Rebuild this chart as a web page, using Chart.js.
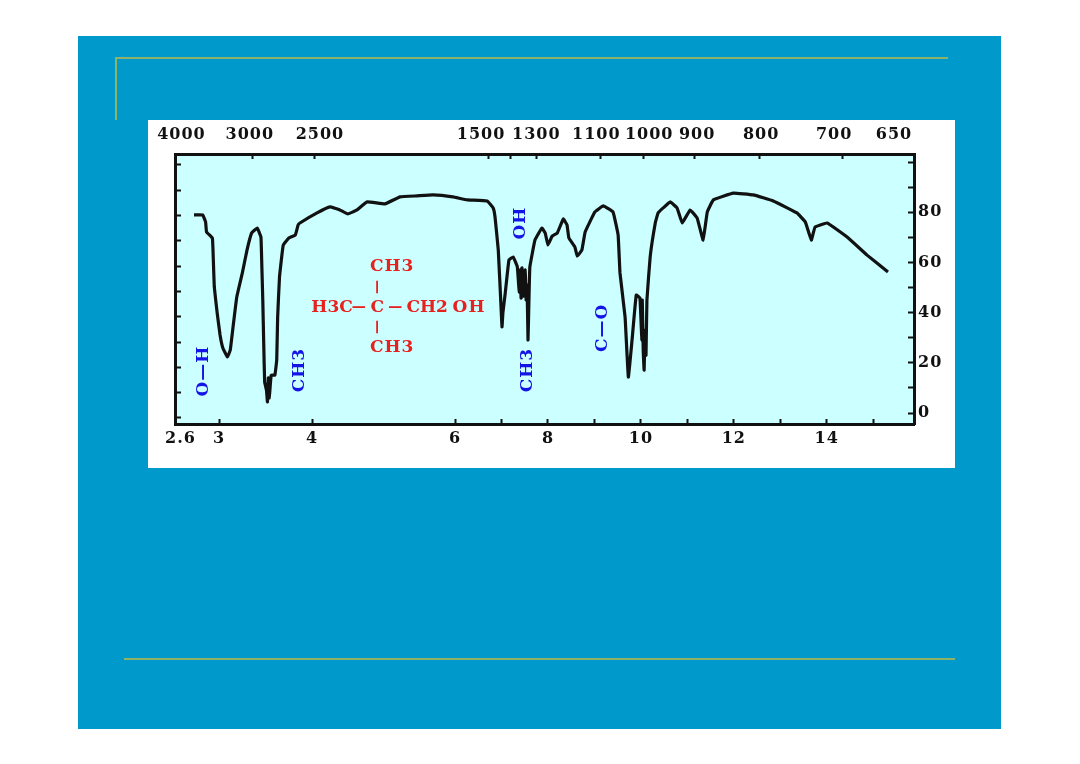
<!DOCTYPE html>
<html><head><meta charset="utf-8">
<script src="https://cdn.jsdelivr.net/npm/chart.js@4"></script>
<style>
html,body{margin:0;padding:0;background:#fff;width:1080px;height:764px;overflow:hidden}
#slide{position:absolute;left:78px;top:36px;width:923px;height:693px;background:#0099cc}
#panel{position:absolute;left:148px;top:120px;width:807px;height:348px;background:#fff}
.g{position:absolute;background:#8fb168}
canvas{position:absolute;left:0;top:0}
</style></head><body>
<div id="slide"></div><div id="panel"></div>
<div class="g" style="left:115px;top:57px;width:833px;height:2px"></div>
<div class="g" style="left:115px;top:57px;width:2px;height:63px"></div>
<div class="g" style="left:124px;top:658px;width:831px;height:2px"></div>
<canvas id="c" width="1080" height="764"></canvas>
<script>
// wavelength in micrometres, percent transmittance
const wavelengthUm=[2.74,2.83,2.86,2.87,2.93,2.94,2.95,2.98,3.01,3.04,3.09,3.12,3.15,3.19,3.25,3.30,3.35,3.41,3.45,3.46,3.47,3.48,3.49,3.51,3.52,3.53,3.54,3.56,3.60,3.62,3.63,3.65,3.69,3.75,3.82,3.85,3.87,4.07,4.25,4.39,4.50,4.63,4.77,5.02,5.23,5.47,5.69,5.97,6.26,6.69,6.82,6.86,6.93,6.99,7.01,7.03,7.08,7.16,7.25,7.34,7.38,7.40,7.42,7.44,7.47,7.51,7.53,7.55,7.57,7.59,7.61,7.72,7.87,7.94,8.00,8.09,8.20,8.33,8.41,8.45,8.58,8.63,8.73,8.80,9.01,9.19,9.40,9.51,9.55,9.66,9.73,9.81,9.90,9.98,10.02,10.03,10.05,10.07,10.09,10.11,10.13,10.20,10.31,10.37,10.48,10.63,10.78,10.89,11.06,11.21,11.34,11.43,11.56,11.99,12.42,12.85,13.36,13.54,13.67,13.75,14.01,14.44,14.87,15.32];
const transmittance=[78.9,78.9,76.1,72.1,69.7,61.0,50.2,39.8,31.1,25.9,22.3,25.1,34.3,46.2,55.8,64.9,71.7,73.7,70.1,58.2,45.0,27.9,12.4,9.0,4.4,14.0,6.0,15.0,15.1,21.1,38.2,54.2,66.9,69.7,70.9,74.9,75.7,79.7,82.1,80.9,79.3,80.9,84.1,83.3,86.1,86.5,86.9,86.1,84.9,84.5,81.7,78.1,64.9,42.0,34.3,40.0,47.8,61.0,62.2,58.2,48.2,57.0,45.8,57.8,46.6,57.0,45.0,51.0,29.1,45.0,58.2,68.9,73.7,71.7,66.9,70.5,71.7,77.3,74.9,69.7,66.1,62.5,64.9,72.1,80.1,82.5,80.1,70.9,55.8,38.2,14.3,29.1,47.0,45.8,29.1,45.0,25.1,17.1,33.0,23.0,45.0,62.2,75.7,79.7,81.7,84.1,81.7,75.7,80.9,77.7,68.9,80.1,84.9,87.6,86.9,84.5,79.7,76.1,68.9,74.1,75.7,70.1,62.9,56.2];

const bottomTickUm=[3,4,6,7,8,9,10,11,12,13,14,15];
const bottomLabels=['2.6','3','4','6','8','10','12','14'];
const bottomLabelUm=[2.6,3,4,6,8,10,12,14];
const topTickWavenumber=[3000,2500,1500,1400,1300,1100,1000,900,800,700];
const topLabels=['4000','3000','2500','1500','1300','1100','1000','900','800','700','650'];
const topLabelUm=[2.61,3.33,4.11,6.56,7.75,9.04,10.18,11.21,12.59,14.16,15.45];
const rightTicks=[0,10,20,30,40,50,60,70,80,90,100];
const rightLabels=[0,20,40,60,80];

const annText=['H3C','—','C','—','CH2','OH','CH3','CH3','—','—','O—H','CH3','OH','CH3','C—O'];
const annUm=[4.28,4.66,4.92,5.17,5.61,6.30,5.12,5.12,4.92,4.92,2.84,3.87,7.40,7.57,9.17];
const annT=[42.2,42.2,42.2,42.2,42.2,42.2,58.2,25.9,50.4,34.5,16.7,17.1,75.7,17.1,33.9];
const annVertical=[0,0,0,0,0,0,0,0,1,1,1,1,1,1,1];
const annBlue=[0,0,0,0,0,0,0,0,0,0,1,1,1,1,1];

// The wavelength axis of the spectrometer is compressed in three stages
const warpUm=[2.5,3,4,6,15,16];
const warpPos=[-0.12,0.92,2.92,6,15,16];
function warp(um){
  let i=0;while(i<warpUm.length-2&&um>warpUm[i+1])i++;
  return warpPos[i]+(um-warpUm[i])*(warpPos[i+1]-warpPos[i])/(warpUm[i+1]-warpUm[i]);
}
const points=wavelengthUm.map((u,i)=>({x:warp(u),y:transmittance[i]}));
const labelFont={family:'"DejaVu Serif"',size:16,weight:'bold'};
const ink='#111';

const setSize=(dim,val)=>s=>{s[dim]=val;};
const topVals=topTickWavenumber.map(w=>warp(1e4/w)+0.05);
const topLabelVals=topLabelUm.map(warp);
const botTickVals=bottomTickUm.map(warp);
const botLabelVals=bottomLabelUm.map(warp);

const spectrumPlugin={id:'spectrum',
  beforeDraw(ch){
    const c=ch.ctx,a=ch.chartArea;
    c.fillStyle='#ccffff';c.fillRect(a.left,a.top,a.width,a.height);
    c.letterSpacing='1px';
  },
  afterDraw(ch){
    const c=ch.ctx,X=ch.scales.x,Y=ch.scales.y;
    annText.forEach((t,i)=>{
      c.save();
      c.translate(X.getPixelForValue(warp(annUm[i])),Y.getPixelForValue(annT[i]));
      if(annVertical[i])c.rotate(-Math.PI/2);
      c.font=t==='—'?'bold 14px "DejaVu Sans"':'bold 17px "DejaVu Serif"';
      c.letterSpacing=(t==='H3C'||t==='CH2')?'0px':'1px';
      c.fillStyle=annBlue[i]?'#1414e6':'#e8201e';
      c.textAlign='center';c.textBaseline='middle';
      c.fillText(t,0,0);
      c.restore();
    });
  }
};

new Chart(document.getElementById('c'),{
  type:'scatter',
  data:{datasets:[{data:points,showLine:true,borderColor:ink,borderWidth:3.2,pointRadius:0,tension:0.08,xAxisID:'x',yAxisID:'y'}]},
  plugins:[spectrumPlugin],
  options:{
    responsive:false,animation:false,
    layout:{padding:0},
    plugins:{legend:{display:false},tooltip:{enabled:false}},
    scales:{
      x:{type:'linear',position:'bottom',min:warp(2.5)+0.09,max:15.88,
        afterFit:setSize('height',340),
        afterBuildTicks(s){s.ticks=[...botTickVals.map(v=>({value:v,k:''})),...botLabelVals.map((v,i)=>({value:v,k:bottomLabels[i]}))];},
        afterTickToLabelConversion(s){s.ticks.forEach(t=>{t.label=t.k;});},
        grid:{drawOnChartArea:false,tickLength:-5,tickWidth:2,tickColor:c=>c.tick&&c.tick.k?'rgba(0,0,0,0)':ink},
        border:{display:true,color:ink,width:3},
        ticks:{autoSkip:false,maxRotation:0,font:labelFont,color:ink,padding:10}},
      xTop:{type:'linear',position:'top',min:warp(2.5)+0.09,max:15.88,
        afterFit:setSize('height',154),
        afterBuildTicks(s){s.ticks=[...topVals.map(v=>({value:v,k:''})),...topLabelVals.map((v,i)=>({value:v,k:topLabels[i]}))];},
        afterTickToLabelConversion(s){s.ticks.forEach(t=>{t.label=t.k;});},
        grid:{drawOnChartArea:false,tickLength:-5,tickWidth:2,tickColor:c=>c.tick&&c.tick.k?'rgba(0,0,0,0)':ink},
        border:{display:true,color:ink,width:3},
        ticks:{autoSkip:false,maxRotation:0,font:labelFont,color:ink,padding:15}},
      y:{type:'linear',position:'right',min:-4.38,max:103.19,
        afterFit:setSize('width',166),
        afterBuildTicks(s){s.ticks=rightTicks.map(v=>({value:v}));},
        grid:{drawOnChartArea:false,tickLength:-6,tickWidth:2,tickColor:ink},
        border:{display:true,color:ink,width:3},
        ticks:{autoSkip:false,font:labelFont,color:ink,padding:10,callback:v=>rightLabels.includes(v)?String(v):''}},
      yLeft:{type:'linear',position:'left',min:-2.4,max:104.3,
        afterFit:setSize('width',175),
        afterBuildTicks(s){s.ticks=rightTicks.map(v=>({value:v}));},
        grid:{drawOnChartArea:false,tickLength:-6,tickWidth:2,tickColor:ink},
        border:{display:true,color:ink,width:3},
        ticks:{display:false}}
    }
  }
});
</script></body></html>
